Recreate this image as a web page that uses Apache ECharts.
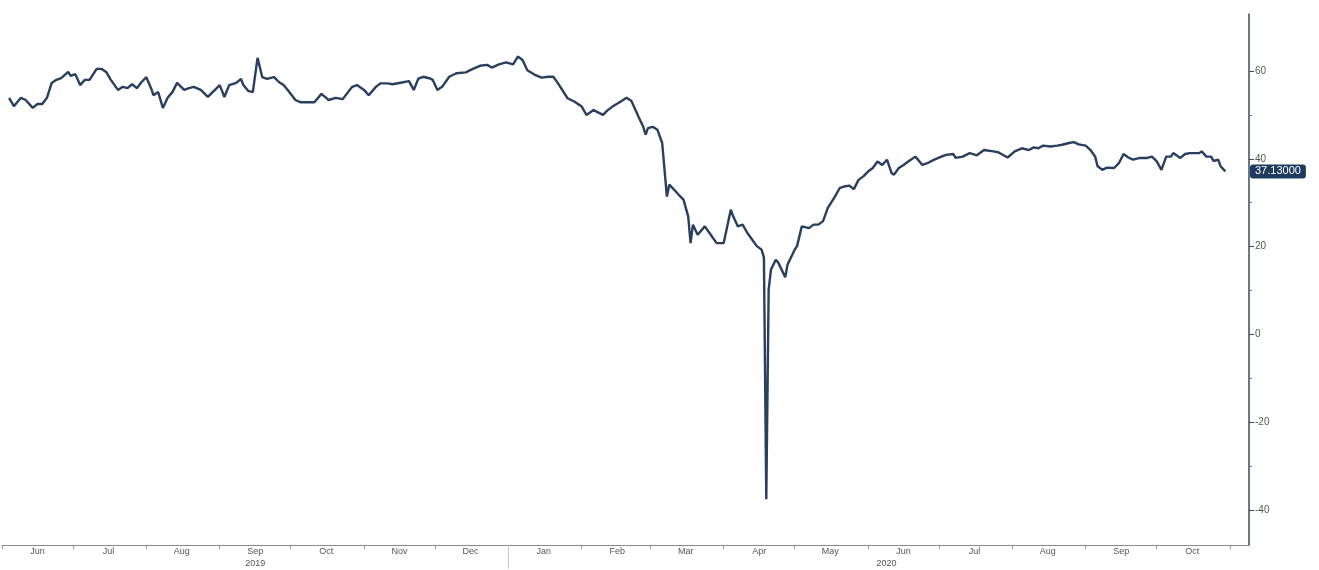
<!DOCTYPE html>
<html>
<head>
<meta charset="utf-8">
<script src="https://cdn.jsdelivr.net/npm/echarts@6/dist/echarts.min.js"></script>
<style>
html,body{margin:0;padding:0;background:#fff;}
#chart{width:1319px;height:570px;}
</style>
</head>
<body>
<div id="chart"></div>
<script>
// ---- data ----
const dates = [
'2019-06-04','2019-06-06','2019-06-09','2019-06-11','2019-06-14','2019-06-16','2019-06-18','2019-06-20','2019-06-22','2019-06-24','2019-06-26','2019-06-29','2019-06-30',
'2019-07-02','2019-07-04','2019-07-06','2019-07-08','2019-07-11','2019-07-13','2019-07-15','2019-07-17','2019-07-20','2019-07-22','2019-07-24','2019-07-26','2019-07-28','2019-07-30',
'2019-08-01','2019-08-03','2019-08-04','2019-08-06','2019-08-08','2019-08-10','2019-08-12','2019-08-14','2019-08-17','2019-08-19','2019-08-21','2019-08-24','2019-08-27','2019-08-30',
'2019-09-01','2019-09-03','2019-09-05','2019-09-08','2019-09-10','2019-09-11','2019-09-13','2019-09-15','2019-09-17','2019-09-19','2019-09-21','2019-09-24','2019-09-26','2019-09-28','2019-09-30',
'2019-10-03','2019-10-05','2019-10-08','2019-10-11','2019-10-14','2019-10-16','2019-10-17','2019-10-20','2019-10-23','2019-10-27','2019-10-29',
'2019-11-01','2019-11-03','2019-11-06','2019-11-08','2019-11-11','2019-11-13','2019-11-17','2019-11-20','2019-11-22','2019-11-24','2019-11-26','2019-11-29','2019-11-30',
'2019-12-02','2019-12-04','2019-12-07','2019-12-10','2019-12-14','2019-12-17','2019-12-20','2019-12-23','2019-12-25','2019-12-28','2019-12-31',
'2020-01-03','2020-01-05','2020-01-07','2020-01-09','2020-01-12','2020-01-15','2020-01-18','2020-01-20','2020-01-22','2020-01-26','2020-01-29',
'2020-02-01','2020-02-03','2020-02-06','2020-02-10','2020-02-12','2020-02-14','2020-02-17','2020-02-20','2020-02-22','2020-02-25','2020-02-27','2020-02-28','2020-02-29',
'2020-03-02','2020-03-04','2020-03-06','2020-03-08','2020-03-09','2020-03-11','2020-03-13','2020-03-15','2020-03-17','2020-03-18','2020-03-19','2020-03-21','2020-03-24','2020-03-26','2020-03-29',
'2020-04-01','2020-04-04','2020-04-05','2020-04-07','2020-04-09','2020-04-11','2020-04-13','2020-04-15','2020-04-17','2020-04-18','2020-04-19','2020-04-20','2020-04-21','2020-04-23','2020-04-24','2020-04-27','2020-04-28',
'2020-05-01','2020-05-02','2020-05-04','2020-05-07','2020-05-09','2020-05-11','2020-05-13','2020-05-15','2020-05-18','2020-05-20','2020-05-22','2020-05-24','2020-05-26','2020-05-28','2020-05-30',
'2020-06-01','2020-06-03','2020-06-05','2020-06-07','2020-06-09','2020-06-11','2020-06-12','2020-06-14','2020-06-16','2020-06-18','2020-06-21','2020-06-24','2020-06-26','2020-06-29',
'2020-07-02','2020-07-04','2020-07-07','2020-07-08','2020-07-11','2020-07-14','2020-07-17','2020-07-20','2020-07-24','2020-07-26','2020-07-30',
'2020-08-02','2020-08-05','2020-08-08','2020-08-10','2020-08-12','2020-08-14','2020-08-17','2020-08-20','2020-08-22','2020-08-25','2020-08-27','2020-08-29',
'2020-09-01','2020-09-03','2020-09-05','2020-09-06','2020-09-08','2020-09-10','2020-09-13','2020-09-15','2020-09-17','2020-09-19','2020-09-21','2020-09-24','2020-09-27','2020-09-29',
'2020-10-01','2020-10-03','2020-10-05','2020-10-07','2020-10-08','2020-10-11','2020-10-13','2020-10-15','2020-10-19','2020-10-20','2020-10-22','2020-10-24','2020-10-25','2020-10-27','2020-10-28','2020-10-30'
];
const prices = [
53.9,52.0,53.9,53.4,51.6,52.5,52.5,53.9,57.3,58.0,58.4,59.8,58.9,
59.3,56.8,58.0,58.0,60.5,60.5,59.8,58.0,55.7,56.4,56.1,57.0,56.1,57.5,
58.6,56.1,54.5,55.2,51.6,53.9,55.2,57.3,55.7,56.1,56.4,55.7,54.1,55.7,
56.8,54.1,56.8,57.3,58.2,56.8,55.5,55.2,63.0,58.6,58.2,58.6,57.5,56.8,55.5,
53.4,52.9,52.9,52.9,54.8,53.9,53.4,53.9,53.6,56.4,56.8,
55.7,54.5,56.4,57.2,57.2,57.0,57.4,57.7,55.7,58.3,58.7,58.3,58.0,
55.7,56.4,58.7,59.5,59.7,60.5,61.2,61.4,60.8,61.5,62.0,
61.5,63.3,62.5,60.2,59.2,58.5,58.7,58.7,57.2,53.8,53.0,
51.9,50.0,51.1,50.0,51.1,51.9,52.9,53.9,53.2,49.6,47.3,45.5,47.0,
47.3,46.6,43.6,31.4,34.1,33.0,31.8,30.7,26.9,20.8,25.0,22.7,24.6,23.1,20.8,
20.8,28.4,26.9,24.6,25.0,23.1,21.6,20.1,19.3,17.5,-37.6,10.2,14.8,17.0,16.4,13.0,15.9,
19.3,20.1,24.6,24.2,25.0,25.0,25.8,28.8,31.4,33.3,33.7,33.9,33.1,35.2,36.0,
37.1,37.9,39.4,38.6,39.8,36.7,36.4,37.9,38.6,39.4,40.5,38.6,39.0,39.8,
40.5,40.9,41.1,40.2,40.5,41.3,40.8,42.0,41.7,41.5,40.3,
41.7,42.4,42.0,42.6,42.4,43.0,42.8,43.0,43.2,43.6,43.8,43.3,
43.0,42.0,40.5,38.3,37.5,38.0,37.9,39.0,41.1,40.3,39.8,40.2,40.2,40.5,
39.4,37.5,40.5,40.5,41.3,40.2,41.1,41.3,41.3,41.7,40.5,40.5,39.5,39.8,38.3,37.13
];
const lastValueLabel = '37.13000';
const monthNames = ['Jan','Feb','Mar','Apr','May','Jun','Jul','Aug','Sep','Oct','Nov','Dec'];
const yearLabels = {'2019-09-16':'2019','2020-06-16':'2020'};
const yMajorTicks = [-40,-20,0,20,40,60];
const yMinorTicks = [-30,-10,10,30,50];
const axisStart = '2019-06-01';
const axisEnd = '2020-11-09';
const yearBreaks = ['2020-01-01'];

// ---- calendar-day categories ----
const days = [];
for (let t = Date.parse(axisStart + 'T00:00:00Z'); t <= Date.parse(axisEnd + 'T00:00:00Z'); t += 86400000) {
  days.push(new Date(t).toISOString().slice(0, 10));
}
const priceByDate = {};
dates.forEach((d, i) => { priceByDate[d] = prices[i]; });
const seriesData = days.map(d => (d in priceByDate ? priceByDate[d] : null));
const lastValue = prices[prices.length - 1];

const chart = echarts.init(document.getElementById('chart'));
const FONT = 'Liberation Sans, Arial, sans-serif';
chart.setOption({
  animation: false,
  backgroundColor: '#ffffff',
  grid: { left: 2, right: 70, top: 14, bottom: 24 },
  xAxis: [{
    type: 'category',
    data: days,
    boundaryGap: false,
    axisLine: { show: true, onZero: false, lineStyle: { color: '#8a8a8a', width: 1 } },
    axisTick: {
      show: true, length: 4, lineStyle: { color: '#9a9a9a' },
      interval: (i, v) => v.slice(8) === '01'
    },
    axisLabel: {
      show: true, margin: 1, fontSize: 9, fontFamily: FONT, color: '#555',
      lineHeight: 12,
      interval: (i, v) => v.slice(8) === '16',
      formatter: (v) => {
        const m = monthNames[parseInt(v.slice(5, 7), 10) - 1];
        if (yearLabels[v]) {
          return v === '2020-06-16' ? m + '\n{y2|' + yearLabels[v] + '}' : m + '\n{y|' + yearLabels[v] + '}';
        }
        return m;
      },
      rich: {
        y: { fontSize: 9, fontFamily: FONT, color: '#555' },
        y2: { fontSize: 9, fontFamily: FONT, color: '#555', padding: [0, 34, 0, 0] }
      }
    },
    splitLine: { show: false }
  }, {
    type: 'category',
    data: days,
    boundaryGap: false,
    position: 'bottom',
    axisLine: { show: false, onZero: false },
    axisTick: {
      show: true, length: 24, lineStyle: { color: '#c8c8c8' },
      interval: (i, v) => yearBreaks.indexOf(v) >= 0
    },
    axisLabel: { show: false },
    splitLine: { show: false }
  }],
  yAxis: [{
    type: 'value',
    position: 'right',
    min: -48,
    max: 73,
    axisLine: { show: true, lineStyle: { color: '#3a4a5e', width: 1.5 } },
    axisTick: { show: true, length: 5, customValues: yMajorTicks, lineStyle: { color: '#3a4a5e' } },
    axisLabel: {
      show: true, margin: 6, fontSize: 10, fontFamily: FONT, color: '#555',
      customValues: yMajorTicks
    },
    splitLine: { show: false }
  }, {
    type: 'value',
    position: 'right',
    min: -48,
    max: 73,
    axisLine: { show: false },
    axisTick: { show: true, length: 3, customValues: yMinorTicks, lineStyle: { color: '#6a7480' } },
    axisLabel: { show: false, customValues: yMinorTicks },
    splitLine: { show: false }
  }],
  series: [{
    type: 'line',
    data: seriesData,
    connectNulls: true,
    showSymbol: false,
    symbol: 'none',
    lineStyle: { color: '#283f5e', width: 2.4 },
    z: 3,
    markLine: {
      silent: true,
      symbol: ['none', 'none'],
      lineStyle: { color: 'rgba(0,0,0,0)', width: 0 },
      data: [{ yAxis: lastValue }],
      label: {
        show: true,
        position: 'end',
        distance: 1,
        formatter: lastValueLabel,
        color: '#ffffff',
        fontSize: 11,
        fontFamily: FONT,
        backgroundColor: '#1e3b5f',
        borderRadius: 3,
        padding: [2, 5, 1, 5]
      }
    }
  }]
});
</script>
</body>
</html>
